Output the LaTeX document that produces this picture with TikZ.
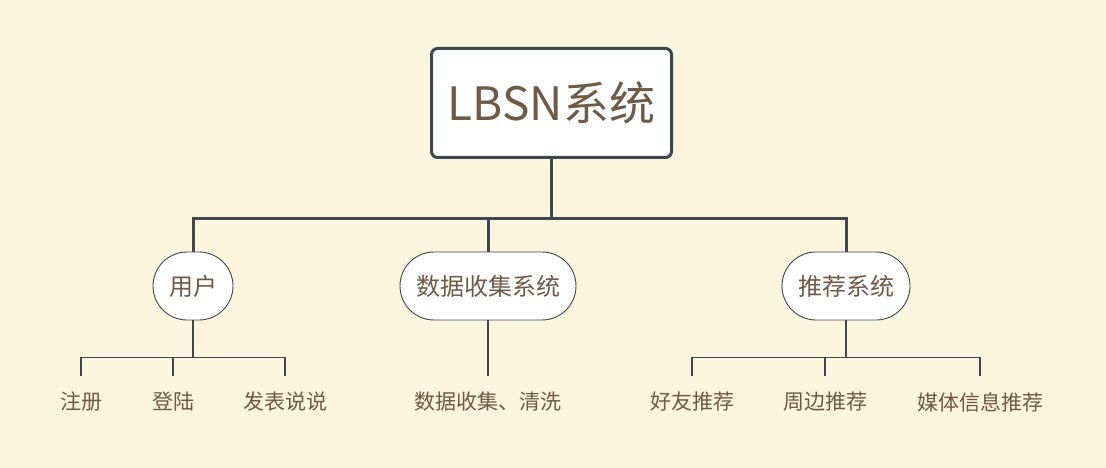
\documentclass[tikz,border=0pt]{standalone}
\usepackage{fontspec}
\setmainfont{Noto Sans CJK SC}
\usetikzlibrary{positioning}

\definecolor{paper}{RGB}{251,245,221}
\definecolor{slate}{RGB}{62,71,79}
\definecolor{ink}{RGB}{110,90,69}

\tikzset{
  rootbox/.style={draw=slate, line width=3pt, fill=white, rounded corners=6pt,
    minimum width=240pt, minimum height=109pt, text=ink,
    font=\fontsize{46}{50}\selectfont},
  pill/.style={draw=slate, line width=0.9pt, fill=white, rounded corners=34pt,
    minimum height=68pt, inner sep=0pt, text=ink,
    font=\fontsize{24}{28}\selectfont},
  leaf/.style={minimum height=52pt, inner sep=0pt, text=ink,
    font=\fontsize{21}{24}\selectfont},
  trunk/.style={draw=slate, line width=3pt},
  twig/.style={draw=slate, line width=1.6pt}
}

\begin{document}
\begin{tikzpicture}[x=1pt, y=-1pt]
  \fill[paper] (0,0) rectangle (1106,468);
  \useasboundingbox (0,0) rectangle (1106,468);

  % root and the three subsystems
  \node[rootbox] (lbsn) at (551.5,103) {LBSN系统};
  \node[pill, minimum width=80pt]  (user)  at (193,286) {用户};
  \node[pill, minimum width=176pt] (data)  at (488,286) {数据收集系统};
  \node[pill, minimum width=128pt] (recom) at (846,286) {推荐系统};

  % leaves
  \node[leaf] (reg)    at (81,402)  {注册};
  \node[leaf] (login)  at (173,402) {登陆};
  \node[leaf] (post)   at (285,402) {发表说说};
  \node[leaf] (clean)  at (488,402) {数据收集、清洗};
  \node[leaf] (friend) at (692,402) {好友推荐};
  \node[leaf] (near)   at (825,402) {周边推荐};
  \node[leaf] (media)  at (980,402) {媒体信息推荐};

  \draw[trunk] (lbsn.south) -- ++(0,59) -| (user.north);
  \draw[trunk] (lbsn.south) -- ++(0,59) -| (data.north);
  \draw[trunk] (lbsn.south) -- ++(0,59) -| (recom.north);

  \draw[twig] (user.south) -- ++(0,37) -| (reg.north);
  \draw[twig] (user.south) -- ++(0,37) -| (login.north);
  \draw[twig] (user.south) -- ++(0,37) -| (post.north);
  \draw[twig] (data.south) -- (clean.north);
  \draw[twig] (recom.south) -- ++(0,37) -| (friend.north);
  \draw[twig] (recom.south) -- ++(0,37) -| (near.north);
  \draw[twig] (recom.south) -- ++(0,37) -| (media.north);
\end{tikzpicture}
\end{document}
